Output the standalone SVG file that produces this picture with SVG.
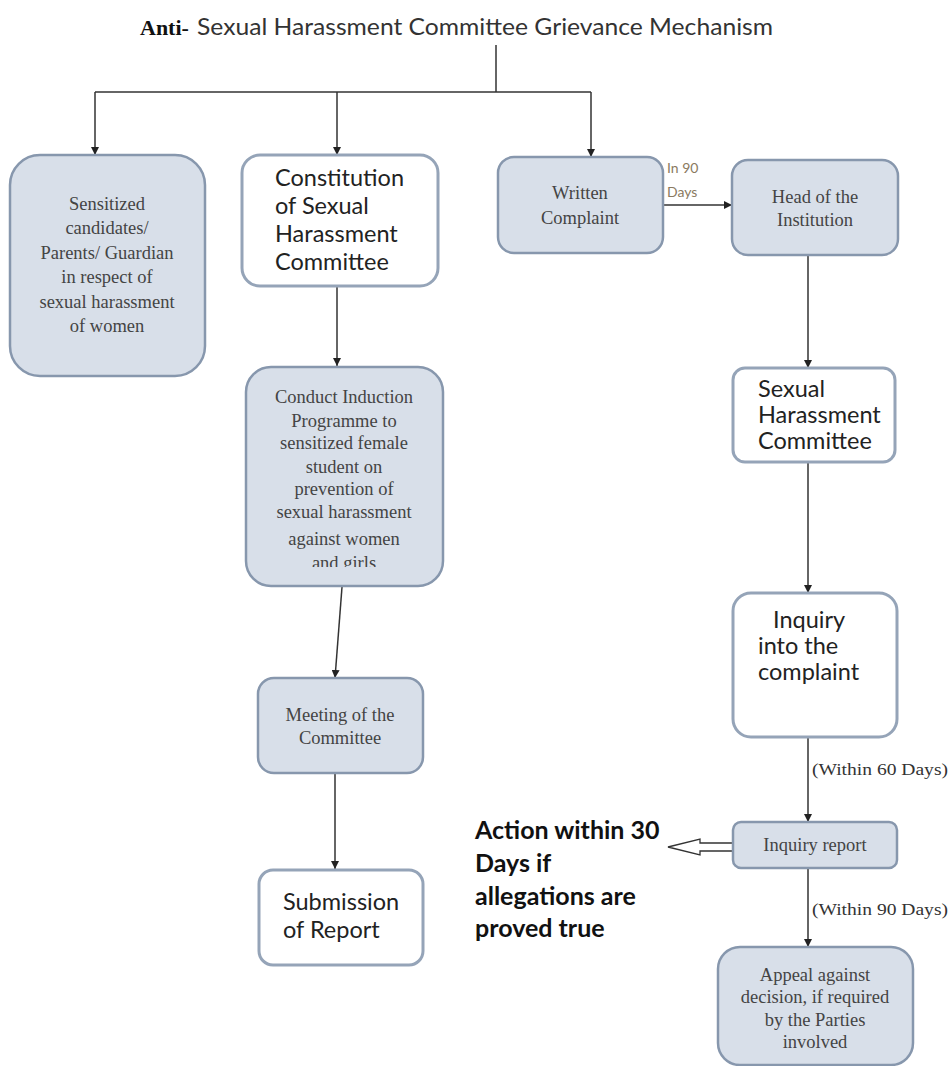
<svg xmlns="http://www.w3.org/2000/svg" width="950" height="1066" viewBox="0 0 950 1066">
<defs>
<marker id="ah" viewBox="0 0 10 10" refX="10" refY="5" markerWidth="8" markerHeight="8" markerUnits="userSpaceOnUse" orient="auto">
<path d="M0,0 L10,5 L0,10 z" fill="#222"/>
</marker>
<clipPath id="c3"><rect x="247" y="367" width="196" height="200"/></clipPath>
</defs>
<style>
.sh{fill:#d8dfe9;stroke:#8797ad;stroke-width:2.5}
.wh{fill:#ffffff;stroke:#95a4b8;stroke-width:3}
.serif{font-family:"Liberation Serif",serif;font-size:18.5px;fill:#444;text-anchor:middle}
.cal{font-family:Lato,"Liberation Sans",sans-serif;font-size:23.5px;fill:#222}
.lbl{font-family:"Liberation Serif",serif;font-size:16px;fill:#333}
.ln{stroke:#333;stroke-width:1.5;fill:none}
</style>
<rect width="950" height="1066" fill="#ffffff"/>
<g id="title">
<text x="140" y="35" font-family="Liberation Serif,serif" font-weight="bold" font-size="22" fill="#111">Anti-</text>
<text x="197" y="35" font-family="Lato,Liberation Sans,sans-serif" font-size="23" fill="#333" textLength="576" lengthAdjust="spacingAndGlyphs">Sexual Harassment Committee Grievance Mechanism</text>
</g>
<g id="connectors">
<path class="ln" d="M496,45 V92"/>
<path class="ln" d="M95,92 H591"/>
<path class="ln" d="M95,92 V155" marker-end="url(#ah)"/>
<path class="ln" d="M337,92 V155" marker-end="url(#ah)"/>
<path class="ln" d="M591,92 V157" marker-end="url(#ah)"/>
<path class="ln" d="M337,287 V366" marker-end="url(#ah)"/>
<path class="ln" d="M342,587 L335,678" marker-end="url(#ah)"/>
<path class="ln" d="M335,773 V869" marker-end="url(#ah)"/>
<path class="ln" d="M663,205 H732" marker-end="url(#ah)"/>
<path class="ln" d="M808,255 V368" marker-end="url(#ah)"/>
<path class="ln" d="M808,462 V593" marker-end="url(#ah)"/>
<path class="ln" d="M808,737 V822" marker-end="url(#ah)"/>
<path class="ln" d="M808,868 V947" marker-end="url(#ah)"/>
<path d="M733,843 H700 V839 L668,847 L700,855 V851 H733 Z" fill="#fff" stroke="#333" stroke-width="1.3"/>
<text x="667" y="173" font-family="Lato,Liberation Sans,sans-serif" font-size="14" fill="#8a7a60">In 90</text>
<text x="667" y="197" font-family="Lato,Liberation Sans,sans-serif" font-size="14" fill="#8a7a60">Days</text>
<text class="lbl" x="812" y="775" textLength="136" lengthAdjust="spacingAndGlyphs">(Within 60 Days)</text>
<text class="lbl" x="812" y="915" textLength="136" lengthAdjust="spacingAndGlyphs">(Within 90 Days)</text>
</g>
<g id="n1">
<rect class="sh" x="10" y="155" width="195" height="221" rx="30"/>
<text class="serif"><tspan x="107" y="210">Sensitized</tspan><tspan x="107" y="234">candidates/</tspan><tspan x="107" y="259">Parents/ Guardian</tspan><tspan x="107" y="283">in respect of</tspan><tspan x="107" y="308">sexual harassment</tspan><tspan x="107" y="332">of women</tspan></text>
</g>
<g id="n2">
<rect class="wh" x="242" y="155" width="196" height="131" rx="18"/>
<text class="cal"><tspan x="275" y="186">Constitution</tspan><tspan x="275" y="214">of Sexual</tspan><tspan x="275" y="242">Harassment</tspan><tspan x="275" y="270">Committee</tspan></text>
</g>
<g id="n3">
<rect class="sh" x="246" y="367" width="197" height="219" rx="25"/>
<text class="serif" clip-path="url(#c3)"><tspan x="344" y="403">Conduct Induction</tspan><tspan x="344" y="427">Programme to</tspan><tspan x="344" y="449">sensitized female</tspan><tspan x="344" y="473">student on</tspan><tspan x="344" y="495">prevention of</tspan><tspan x="344" y="518">sexual harassment</tspan><tspan x="344" y="545">against women</tspan><tspan x="344" y="569">and girls</tspan></text>
</g>
<g id="n4">
<rect class="sh" x="258" y="678" width="165" height="95" rx="16"/>
<text class="serif" font-size="18"><tspan x="340" y="721">Meeting of the</tspan><tspan x="340" y="744">Committee</tspan></text>
</g>
<g id="n5">
<rect class="wh" x="259" y="870" width="164" height="95" rx="14"/>
<text class="cal"><tspan x="283" y="910">Submission</tspan><tspan x="283" y="938">of Report</tspan></text>
</g>
<g id="n6">
<rect class="sh" x="498" y="157" width="165" height="96" rx="16"/>
<text class="serif" font-size="18"><tspan x="580" y="199">Written</tspan><tspan x="580" y="224">Complaint</tspan></text>
</g>
<g id="n7">
<rect class="sh" x="732" y="160" width="166" height="95" rx="16"/>
<text class="serif" font-size="18"><tspan x="815" y="203">Head of the</tspan><tspan x="815" y="226">Institution</tspan></text>
</g>
<g id="n8">
<rect class="wh" x="733" y="368" width="162" height="94" rx="12"/>
<text class="cal" font-size="21.5"><tspan x="758" y="397">Sexual</tspan><tspan x="758" y="423">Harassment</tspan><tspan x="758" y="449">Committee</tspan></text>
</g>
<g id="n9">
<rect class="wh" x="733" y="593" width="164" height="144" rx="18"/>
<text class="cal" font-size="21.5"><tspan x="773" y="628">Inquiry</tspan><tspan x="758" y="654">into the</tspan><tspan x="758" y="680">complaint</tspan></text>
</g>
<g id="n10">
<rect class="sh" x="733" y="822" width="164" height="46" rx="8"/>
<text class="serif" font-size="18" x="815" y="851">Inquiry report</text>
</g>
<g id="n11">
<rect class="sh" x="718" y="947" width="195" height="118" rx="22"/>
<text class="serif" font-size="18"><tspan x="815" y="981">Appeal against</tspan><tspan x="815" y="1003">decision, if required</tspan><tspan x="815" y="1026">by the Parties</tspan><tspan x="815" y="1048">involved</tspan></text>
</g>
<g id="note">
<text font-family="Lato,Liberation Sans,sans-serif" font-weight="bold" font-size="25" fill="#111"><tspan x="475" y="839">Action within 30</tspan><tspan x="475" y="872">Days if</tspan><tspan x="475" y="905">allegations are</tspan><tspan x="475" y="937">proved true</tspan></text>
</g>
</svg>
